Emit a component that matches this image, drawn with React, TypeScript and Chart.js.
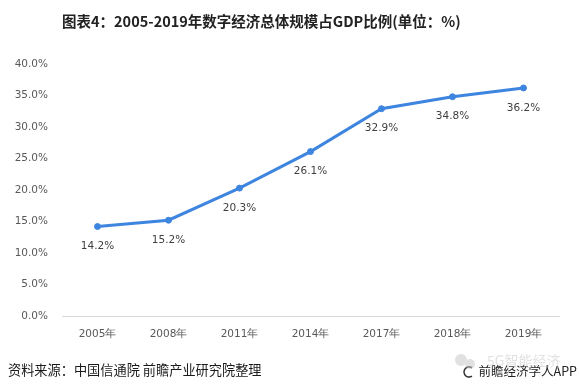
import React, { useEffect, useRef } from "react";
import { Chart, registerables } from "chart.js";

Chart.register(...registerables);

const categories = ["2005年", "2008年", "2011年", "2014年", "2017年", "2018年", "2019年"];
const shareOfGdp = [14.2, 15.2, 20.3, 26.1, 32.9, 34.8, 36.2];
const yTicks = [0, 5, 10, 15, 20, 25, 30, 35, 40];

const titleText = "图表4：2005-2019年数字经济总体规模占GDP比例(单位：%)";
const sourceText = "资料来源：中国信通院 前瞻产业研究院整理";
const brandText = "前瞻经济学人APP";
const wechatText = "5G智能经济";

const LINE_COLOR = "#3d85df";
const FONT = "'DejaVu Sans', Verdana, sans-serif";
const CJK = "'Noto Sans CJK SC', 'Microsoft YaHei', sans-serif";

const decorPlugin = {
  id: "decor",
  afterDatasetsDraw(chart: any) {
    const ctx = chart.ctx;
    const meta = chart.getDatasetMeta(0);
    ctx.save();
    ctx.font = `10.5px ${FONT}`;
    ctx.fillStyle = "#404040";
    ctx.textAlign = "center";
    ctx.textBaseline = "middle";
    meta.data.forEach((pt: any, i: number) => {
      ctx.fillText(`${shareOfGdp[i].toFixed(1)}%`, pt.x, pt.y + 20);
    });
    ctx.restore();
  },
  afterDraw(chart: any) {
    const ctx = chart.ctx;
    ctx.save();
    // title
    ctx.font = `bold 14.5px ${CJK}`;
    ctx.fillStyle = "#222";
    ctx.textAlign = "left";
    ctx.textBaseline = "middle";
    ctx.fillText(titleText, 62, 21);
    // source
    ctx.font = `13.2px ${CJK}`;
    ctx.fillStyle = "#1a1a1a";
    ctx.fillText(sourceText, 8, 370);
    // brand
    ctx.font = `12.5px ${CJK}`;
    ctx.textAlign = "right";
    ctx.fillStyle = "#222";
    ctx.fillText(brandText, 577, 371);
    // brand icon
    ctx.strokeStyle = "#333";
    ctx.lineWidth = 1.5;
    ctx.beginPath();
    ctx.arc(469, 372, 5, Math.PI * 0.3, Math.PI * 1.7);
    ctx.stroke();
    // wechat watermark
    ctx.globalAlpha = 0.55;
    ctx.fillStyle = "#c8c8c8";
    ctx.font = `14px ${CJK}`;
    ctx.textAlign = "left";
    ctx.fillText(wechatText, 487, 361);
    ctx.beginPath();
    ctx.arc(461, 360, 6, 0, Math.PI * 2);
    ctx.arc(470, 364, 5, 0, Math.PI * 2);
    ctx.fill();
    ctx.restore();
  },
};

export default function App() {
  const ref = useRef<HTMLCanvasElement>(null);
  useEffect(() => {
    if (!ref.current) return;
    const chart = new Chart(ref.current, {
      type: "line",
      data: {
        labels: categories,
        datasets: [
          {
            data: shareOfGdp,
            borderColor: LINE_COLOR,
            backgroundColor: LINE_COLOR,
            borderWidth: 3,
            pointRadius: 3,
            pointBorderWidth: 1,
            pointBackgroundColor: LINE_COLOR,
            pointBorderColor: LINE_COLOR,
            tension: 0,
          },
        ],
      },
      options: {
        responsive: false,
        animation: false,
        devicePixelRatio: 1,
        layout: { padding: { top: 64, right: 20, left: 0, bottom: 0 } },
        plugins: { legend: { display: false }, tooltip: { enabled: false }, title: { display: false } },
        scales: {
          x: {
            offset: true,
            grid: { display: false, drawTicks: false },
            border: { display: true, color: "#d9d9d9", width: 1 },
            ticks: { color: "#595959", font: { size: 10.5, family: FONT }, padding: 12 },
            afterFit(scale: any) {
              scale.height = 75;
            },
          },
          y: {
            min: 0,
            max: 40,
            afterBuildTicks(scale: any) {
              scale.ticks = yTicks.map((v) => ({ value: v }));
            },
            grid: { display: false, drawTicks: false },
            border: { display: false },
            ticks: {
              color: "#595959",
              font: { size: 10.5, family: FONT },
              padding: 14,
              callback: (v: any) => `${Number(v).toFixed(1)}%`,
            },
            afterFit(scale: any) {
              scale.width = 62;
            },
          },
        },
      },
      plugins: [decorPlugin],
    });
    return () => chart.destroy();
  }, []);
  return (
    <div style={{ position: "absolute", left: 0, top: 0, width: 579, height: 391, background: "#fff" }}>
      <canvas ref={ref} width={579} height={391} style={{ width: 579, height: 391 }} />
    </div>
  );
}
